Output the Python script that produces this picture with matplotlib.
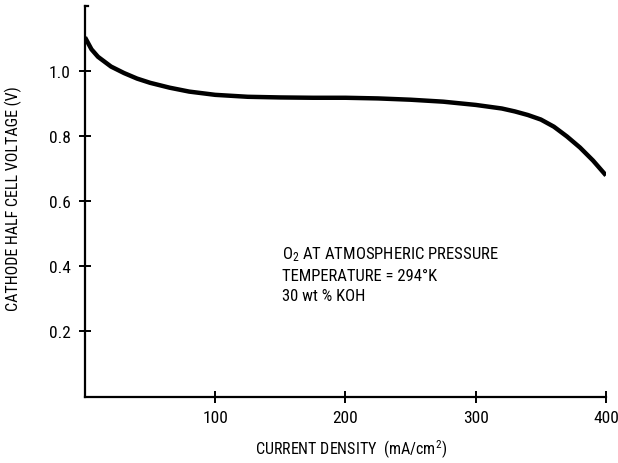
import numpy as np
import matplotlib
matplotlib.use('Agg')
import matplotlib.pyplot as plt
from matplotlib import rcParams

rcParams['font.family'] = ['Roboto Condensed', 'DejaVu Sans']
rcParams['mathtext.default'] = 'regular'

##################################################
# data

current = [0, 5, 10, 20, 30, 40, 50, 65, 80, 100, 125, 150, 175, 200, 225,
           250, 275, 300, 320, 330, 340, 350, 360, 370, 380, 390, 400]
voltage = [1.105, 1.068, 1.045, 1.015, 0.995, 0.978, 0.965, 0.950, 0.938,
           0.928, 0.922, 0.920, 0.919, 0.919, 0.917, 0.913, 0.907, 0.897,
           0.886, 0.877, 0.866, 0.852, 0.830, 0.800, 0.766, 0.726, 0.680]

xticks = [100, 200, 300, 400]
yticks = [0.2, 0.4, 0.6, 0.8, 1.0]
ytick_labels = ['0.2', '0.4', '0.6', '0.8', '1.0']

notes = ['O$_2$ AT ATMOSPHERIC PRESSURE',
         'TEMPERATURE = 294°K',
         '30 wt % KOH']

##################################################
# plot

fig = plt.figure(figsize=(6.18, 4.64), dpi=100)
ax = fig.add_axes([0.1375, 0.1433, 0.8431, 0.8407])

ax.plot(current, voltage, color='black', linewidth=3.2, solid_capstyle='butt')

ax.set_xlim(0, 400)
ax.set_ylim(0, 1.2)

for side in ['top', 'right']:
    ax.spines[side].set_visible(False)
for side in ['left', 'bottom']:
    ax.spines[side].set_linewidth(1.6)

ax.set_xticks(xticks)
ax.set_xticklabels([str(t) for t in xticks])
ax.set_yticks(yticks)
ax.set_yticklabels(ytick_labels)
ax.tick_params(axis='both', direction='inout', length=9, width=1.4,
               labelsize=12.5, colors='black')
ax.tick_params(axis='x', pad=5)
ax.tick_params(axis='y', pad=6)

# small stub at top of the y axis
ax.plot([0, 2.5], [1.2, 1.2], color='black', linewidth=1.6, clip_on=False)

ax.set_xlabel('CURRENT DENSITY  (mA/cm$^2$)', fontsize=11.5)
ax.xaxis.set_label_coords(0.51, -0.105)
ax.set_ylabel('CATHODE HALF CELL VOLTAGE (V)', fontsize=11.5)
ax.yaxis.set_label_coords(-0.12, 0.51)

ypos = [0.44, 0.372, 0.31]
for txt, yy in zip(notes, ypos):
    ax.text(151, yy, txt, fontsize=12, ha='left', va='center')

fig.savefig('out.png', dpi=100)
